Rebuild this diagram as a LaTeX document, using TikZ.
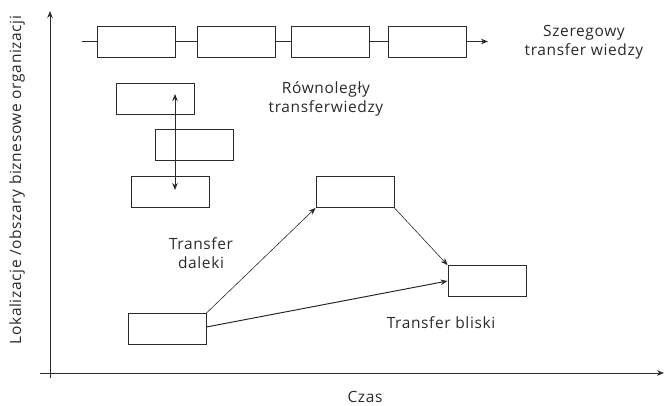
\documentclass[tikz,border=0pt]{standalone}
\usepackage{fontspec}
\setmainfont{Open Sans}[LetterSpace=4]
\usetikzlibrary{arrows.meta}
\definecolor{ink}{HTML}{2A2A2A}
\begin{document}
\begin{tikzpicture}[x=1pt,y=-1pt,
  box/.style={draw=ink,line width=0.9pt,minimum width=78pt,minimum height=31pt,inner sep=0pt},
  lbl/.style={text=ink,font=\fontsize{15.5}{19}\selectfont,align=center,inner sep=0pt},
  tip/.style={-{Stealth[length=7pt,width=5.5pt]}},
  conn/.style={draw=ink,line width=0.6pt,tip}]
\useasboundingbox (0,0) rectangle (665,406);
% axes
\coordinate (ybot) at (50,378);
\coordinate (ytop) at (50,11);
\coordinate (xstart) at (40,373);
\coordinate (xend) at (664,373);
\draw[ink,line width=0.9pt,tip] (ybot) -- (ytop);
\draw[ink,line width=0.9pt,tip] (xstart) -- (xend);
% serial row
\node[box] (s1) at (136.5,41.5) {};
\node[box] (s2) at (236.5,41.5) {};
\node[box] (s3) at (330.5,41.5) {};
\node[box] (s4) at (427,41.5) {};
\coordinate (sstart) at (82,41.5);
\coordinate (send) at (488,41.5);
\draw[ink,line width=0.9pt] (sstart) -- (s1.west);
\draw[ink,line width=0.9pt] (s1.east) -- (s2.west);
\draw[ink,line width=0.9pt] (s2.east) -- (s3.west);
\draw[ink,line width=0.9pt] (s3.east) -- (s4.west);
\draw[ink,line width=0.9pt,tip] (s4.east) -- (send);
\node[lbl] (serlbl) at (584,42) {Szeregowy\\transfer wiedzy};
% parallel
\node[box] (p1) at (155.5,99) {};
\node[box] (p2) at (194.5,145) {};
\node[box] (p3) at (170.5,191.5) {};
\coordinate (ptop) at (175,94);
\coordinate (pbot) at (175,190);
\draw[ink,line width=0.8pt,{Stealth[length=7pt,width=5.5pt]}-{Stealth[length=7pt,width=5.5pt]}] (ptop) -- (pbot);
\node[lbl] (parlbl) at (326,99) {Równoległy\\transferwiedzy};
% bottom
\node[box] (d) at (167,329) {};
\node[box] (e) at (355,192) {};
\node[box] (f) at (487,281) {};
\draw[conn] (d.north east) -- (e.south west);
\draw[conn] (e.south east) -- (f.north west);
\draw[ink,line width=1pt,tip] (d.east) ++(0,-2) -- (f.west);
\node[lbl] (dal) at (201,253) {Transfer\\daleki};
\node[lbl] (bli) at (441,323) {Transfer bliski};
\node[lbl] (czas) at (365,397) {Czas};
\node[lbl,rotate=90] (ylbl) at (17,180) {Lokalizacje /obszary biznesowe organizacji};
\end{tikzpicture}
\end{document}
